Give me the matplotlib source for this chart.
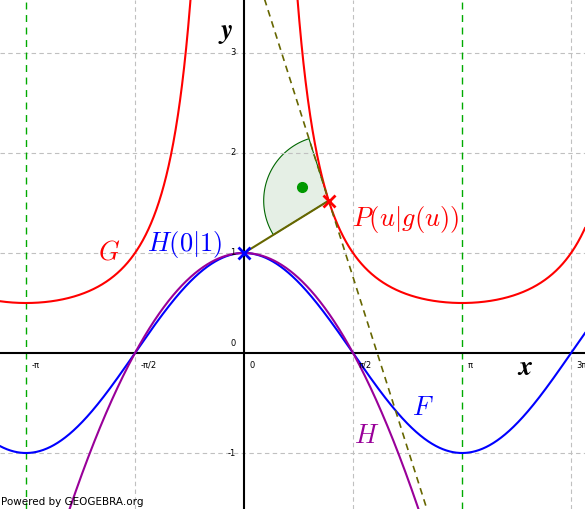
import numpy as np
import matplotlib.pyplot as plt

plt.rcParams['mathtext.fontset'] = 'cm'

u = 1.22
tick_pos = [-np.pi, -np.pi/2, 0, np.pi/2, np.pi, 3*np.pi/2]
tick_lbl = ['-π', '-π/2', '0', 'π/2', 'π', '3π/2']
ytick_pos = [-1, 1, 2, 3]

def F(x): return np.cos(x)
def G(x): return 1/(1-np.cos(x))
def H(x): return 1-4*x**2/np.pi**2
def dG(x): return -np.sin(x)/(1-np.cos(x))**2

fig = plt.figure(figsize=(5.85, 5.09), dpi=100)
ax = fig.add_axes([0, 0, 1, 1])
x0, x1, y0, y1 = -3.516, 4.913, -1.56, 3.53
ax.set_xlim(x0, x1); ax.set_ylim(y0, y1); ax.axis('off')
sx, sy = 69.4, 100.0

for y in ytick_pos:
    ax.axhline(y, color='#c0c0c0', ls=(0, (4, 3)), lw=0.8)
for x in [-np.pi/2, np.pi/2, 3*np.pi/2]:
    ax.axvline(x, color='#c0c0c0', ls=(0, (4, 3)), lw=0.8)
for x in [-np.pi, np.pi]:
    ax.axvline(x, color='#00aa00', ls=(0, (5, 4)), lw=1.0)
ax.axhline(0, color='black', lw=1.5)
ax.axvline(0, color='black', lw=1.5)
for p, l in zip(tick_pos, tick_lbl):
    ax.text(p+0.08, -0.08, l, fontsize=6, va='top', clip_on=True)
for y in ytick_pos:
    ax.text(-0.12, y, str(y), fontsize=6, ha='right', va='center')
ax.text(-0.12, 0.05, '0', fontsize=6, ha='right', va='bottom')

xs = np.linspace(x0, x1, 2000)
ax.plot(xs, F(xs), color='#0000ff', lw=1.5)
ax.plot(xs, H(xs), color='#990099', lw=1.5)
for m in [xs < -0.05, xs > 0.05]:
    ax.plot(xs[m], G(xs[m]), color='#ff0000', lw=1.5)

P = (u, G(u)); k = dG(u)
ax.plot(xs, P[1] + k*(xs-u), color='#666600', ls=(0, (4, 3)), lw=1.2)
ax.plot([0, u], [1, P[1]], color='#666600', lw=1.5)

# right angle sector, drawn in pixel space
a1 = np.arctan2(-(P[1]-1)*sy, -u*sx) % (2*np.pi)
a2 = np.arctan2(-k*sy, -sx) % (2*np.pi)
t = np.linspace(min(a1, a2), max(a1, a2), 60)
r = 65
px = np.concatenate([[u], u + r*np.cos(t)/sx, [u]])
py = np.concatenate([[P[1]], P[1] + r*np.sin(t)/sy, [P[1]]])
ax.fill(px, py, facecolor=(0, 0.4, 0, 0.1), edgecolor='#006600', lw=0.8)
ax.plot(0.836, 1.66, 'o', color='#009900', ms=7)

ax.plot(0, 1, 'x', color='#0000ff', ms=8, mew=2)
ax.plot(*P, 'x', color='#ff0000', ms=8, mew=2)

ax.text(-2.1, 0.93, '$G$', color='#ff0000', fontsize=19)
ax.text(-1.4, 1.02, '$H(0|1)$', color='#0000ff', fontsize=19)
ax.text(1.55, 1.27, '$P(u|g(u))$', color='#ff0000', fontsize=19)
ax.text(2.42, -0.62, '$F$', color='#0000ff', fontsize=19)
ax.text(1.58, -0.9, '$H$', color='#990099', fontsize=19)
ax.text(-0.38, 3.15, '$\\boldsymbol{y}$', fontsize=20)
ax.text(3.93, -0.22, '$\\boldsymbol{x}$', fontsize=20)
ax.text(-3.5, -1.52, 'Powered by GEOGEBRA.org', fontsize=7.5)

fig.savefig('out.png', dpi=100)
